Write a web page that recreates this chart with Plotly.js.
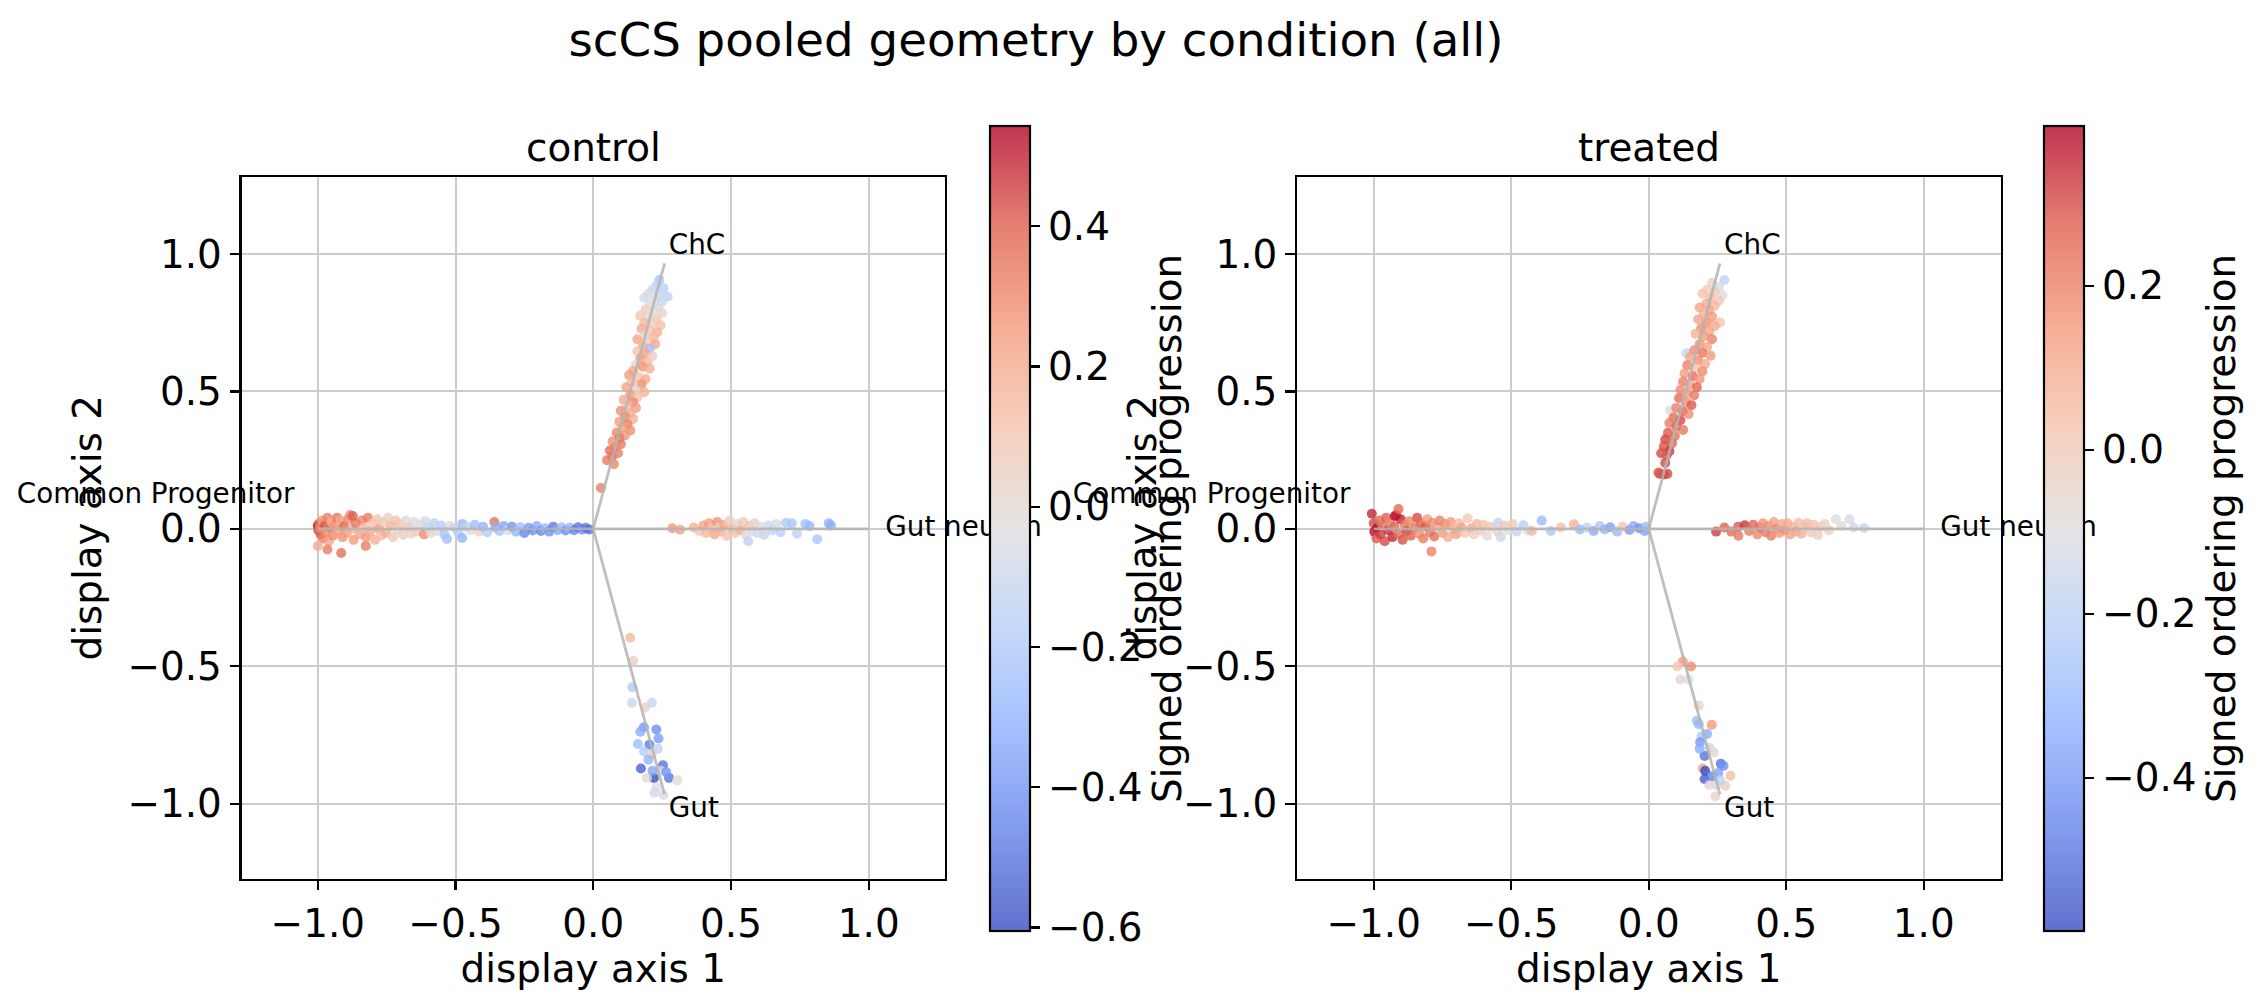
<!DOCTYPE html>
<html>
<head>
<meta charset="utf-8">
<script src="https://cdn.plot.ly/plotly-3.0.1.min.js"></script>
<style>
  html, body { margin: 0; padding: 0; background: #ffffff; }
  #chart { width: 2268px; height: 1007px; }
</style>
</head>
<body>
<div id="chart"></div>
<script>
// ---- skeleton of the pooled geometry ----
const vertex_names = ['Common Progenitor', 'Gut neuron', 'ChC', 'Gut'];
const vertex_x = [-1.0, 1.0, 0.2588, 0.2588];
const vertex_y = [0.0, 0.0, 0.9659, -0.9659];
const label_x = [-1.085, 1.06, 0.274, 0.274];
const label_y = [0.12, 0.0, 1.024, -1.024];
const label_side = ['middle left', 'middle right', 'middle right', 'middle right'];

const conditions = ['control', 'treated'];
const colour_min = [-0.605, -0.587];
const colour_max = [0.543, 0.395];
const colour_ticks = [[-0.6, -0.4, -0.2, 0.0, 0.2, 0.4], [-0.4, -0.2, 0.0, 0.2]];
const axis_ticks = [-1.0, -0.5, 0.0, 0.5, 1.0];

// ---- cells: [display axis 1, display axis 2, signed ordering progression] ----
const control_progenitor = [
  [-1.000, 0.012, 0.543], [-0.998, -0.005, 0.45], [-0.995, 0.020, 0.38], [-0.990, -0.020, 0.40],
  [-0.992, 0.002, 0.30], [-0.985, 0.030, 0.25], [-0.980, -0.035, 0.32], [-0.975, 0.010, 0.42],
  [-0.970, -0.010, 0.28], [-0.965, 0.040, 0.33], [-0.960, -0.045, 0.22], [-0.955, 0.005, 0.35],
  [-0.950, 0.025, 0.18], [-0.945, -0.025, 0.30], [-0.940, 0.015, 0.27], [-0.965, -0.075, 0.33],
  [-1.000, -0.062, 0.20], [-0.915, -0.088, 0.36], [-0.826, -0.062, 0.33], [-0.930, 0.040, 0.35],
  [-0.925, -0.005, 0.25], [-0.918, 0.030, 0.20], [-0.910, -0.030, 0.28], [-0.905, 0.010, 0.38],
  [-0.895, -0.015, 0.24], [-0.890, 0.035, 0.30], [-0.883, 0.050, 0.28], [-0.875, 0.000, 0.17],
  [-0.870, -0.040, 0.25], [-0.862, 0.020, 0.34], [-0.873, 0.047, 0.40], [-0.848, -0.020, 0.22],
  [-0.840, 0.030, 0.31], [-0.832, 0.005, 0.15], [-0.825, -0.030, 0.26], [-0.818, 0.040, 0.33],
  [-0.810, -0.010, 0.20], [-0.800, 0.020, 0.12], [-0.792, -0.040, 0.18], [-0.785, 0.035, 0.10],
  [-0.778, 0.000, 0.24], [-0.770, -0.025, 0.14], [-0.760, 0.025, 0.08], [-0.752, -0.015, 0.20],
  [-0.745, 0.040, 0.05], [-0.735, 0.010, 0.16], [-0.727, -0.030, 0.09], [-0.718, 0.030, 0.13],
  [-0.710, -0.005, 0.03], [-0.700, 0.018, 0.11], [-0.690, -0.022, 0.06], [-0.680, 0.030, 0.00],
  [-0.670, 0.005, 0.10], [-0.660, -0.018, 0.02], [-0.650, 0.025, -0.05], [-0.640, -0.010, 0.08],
  [-0.628, 0.015, -0.02], [-0.614, -0.020, 0.30], [-0.610, 0.028, -0.08], [-0.600, 0.005, -0.12],
  [-0.590, -0.015, 0.02], [-0.578, 0.020, -0.15], [-0.565, -0.008, -0.05], [-0.552, 0.012, -0.18],
  [-0.540, -0.020, -0.22], [-0.531, -0.037, -0.25], [-0.520, 0.010, 0.00], [-0.505, 0.005, -0.10],
  [-0.490, -0.012, -0.20], [-0.475, 0.018, -0.28], [-0.476, -0.033, -0.30], [-0.460, 0.008, -0.15],
  [-0.445, -0.005, -0.05], [-0.430, 0.015, -0.25], [-0.415, -0.010, 0.05], [-0.400, 0.008, -0.30],
  [-0.385, -0.012, -0.20], [-0.359, 0.025, 0.35], [-0.355, 0.005, -0.32], [-0.340, -0.008, -0.22],
  [-0.325, 0.010, -0.35], [-0.310, -0.005, -0.05], [-0.295, 0.008, -0.40], [-0.280, -0.010, -0.30],
  [-0.265, 0.006, -0.25], [-0.250, -0.015, -0.45], [-0.235, 0.004, -0.38], [-0.220, -0.006, -0.42],
  [-0.205, 0.010, -0.33], [-0.190, -0.008, -0.45], [-0.175, 0.002, -0.30], [-0.160, -0.010, -0.40],
  [-0.145, 0.008, -0.48], [-0.130, -0.004, -0.35], [-0.115, 0.006, -0.25], [-0.100, -0.006, -0.42],
  [-0.085, 0.004, -0.30], [-0.070, -0.005, -0.45], [-0.055, 0.006, -0.50], [-0.040, -0.003, -0.40],
  [-0.028, 0.004, -0.48], [-0.015, -0.002, -0.52]
];
const control_chc = [
  [0.240, 0.905, -0.22], [0.230, 0.885, -0.15], [0.215, 0.870, -0.10], [0.255, 0.875, -0.18],
  [0.200, 0.855, -0.05], [0.238, 0.850, -0.12], [0.270, 0.845, -0.15], [0.185, 0.840, -0.08],
  [0.222, 0.830, 0.00], [0.250, 0.825, -0.10], [0.205, 0.815, -0.03], [0.235, 0.805, -0.06],
  [0.190, 0.798, 0.05], [0.218, 0.790, -0.02], [0.250, 0.785, 0.02], [0.170, 0.775, 0.10],
  [0.200, 0.770, 0.00], [0.230, 0.762, 0.08], [0.185, 0.750, 0.15], [0.215, 0.745, 0.05],
  [0.245, 0.740, 0.12], [0.175, 0.728, 0.20], [0.205, 0.722, 0.10], [0.232, 0.715, 0.18],
  [0.190, 0.705, 0.02], [0.220, 0.698, 0.15], [0.160, 0.690, 0.22], [0.200, 0.680, 0.08],
  [0.225, 0.672, 0.20], [0.180, 0.665, 0.18], [0.205, 0.655, -0.25], [0.160, 0.645, 0.12],
  [0.190, 0.638, 0.22], [0.215, 0.628, 0.05], [0.170, 0.618, 0.25], [0.195, 0.605, 0.15],
  [0.155, 0.598, 0.02], [0.180, 0.590, 0.27], [0.205, 0.583, 0.18], [0.145, 0.575, 0.20],
  [0.130, 0.560, 0.25], [0.165, 0.552, 0.10], [0.190, 0.545, 0.20], [0.140, 0.535, 0.15],
  [0.175, 0.525, 0.28], [0.120, 0.515, 0.22], [0.155, 0.505, 0.05], [0.185, 0.497, 0.18],
  [0.135, 0.488, 0.26], [0.160, 0.478, 0.12], [0.110, 0.470, 0.20], [0.145, 0.460, 0.30],
  [0.125, 0.448, 0.15], [0.155, 0.440, 0.24], [0.100, 0.430, 0.28], [0.135, 0.420, 0.20],
  [0.115, 0.408, 0.30], [0.145, 0.400, 0.18], [0.095, 0.390, 0.25], [0.125, 0.380, 0.32],
  [0.105, 0.368, 0.22], [0.135, 0.358, 0.28], [0.085, 0.350, 0.30], [0.115, 0.340, 0.26],
  [0.095, 0.330, 0.33], [0.070, 0.318, 0.28], [0.100, 0.308, 0.34], [0.080, 0.298, 0.30],
  [0.060, 0.285, 0.36], [0.090, 0.275, 0.32], [0.068, 0.262, 0.35], [0.050, 0.250, 0.33],
  [0.075, 0.235, 0.30], [0.028, 0.149, 0.32]
];
const control_gut_neuron = [
  [0.287, 0.002, 0.26], [0.315, -0.003, 0.24], [0.365, 0.005, 0.18], [0.385, -0.008, 0.10],
  [0.400, 0.012, 0.22], [0.410, -0.015, 0.15], [0.420, 0.020, 0.25], [0.430, 0.002, 0.12],
  [0.440, -0.020, 0.20], [0.450, 0.025, 0.28], [0.458, 0.005, 0.08], [0.465, -0.010, 0.18],
  [0.475, 0.015, 0.22], [0.485, -0.025, 0.12], [0.495, 0.030, 0.05], [0.505, 0.000, 0.15],
  [0.515, -0.015, 0.10], [0.525, 0.018, 0.02], [0.535, -0.005, 0.18], [0.545, 0.025, 0.08],
  [0.555, -0.022, 0.00], [0.565, 0.010, 0.12], [0.575, -0.008, -0.05], [0.585, 0.020, 0.05],
  [0.563, -0.045, -0.15], [0.595, -0.015, -0.08], [0.605, 0.008, -0.02], [0.620, -0.022, -0.12],
  [0.635, 0.012, -0.10], [0.650, -0.005, -0.15], [0.665, 0.018, -0.05], [0.680, -0.012, -0.18],
  [0.700, 0.022, -0.20], [0.721, 0.020, -0.22], [0.740, -0.018, -0.15], [0.770, 0.018, -0.25],
  [0.785, 0.010, -0.28], [0.813, -0.038, -0.22], [0.855, 0.020, -0.30], [0.863, 0.012, -0.32]
];
const control_gut = [
  [0.134, -0.396, 0.15], [0.145, -0.480, 0.05], [0.142, -0.576, -0.20], [0.140, -0.633, -0.10],
  [0.188, -0.650, 0.05], [0.213, -0.633, -0.12], [0.184, -0.722, -0.40], [0.171, -0.738, -0.33],
  [0.229, -0.730, -0.42], [0.162, -0.783, -0.25], [0.204, -0.785, -0.48], [0.237, -0.763, -0.38],
  [0.185, -0.810, -0.20], [0.212, -0.820, 0.05], [0.253, -0.860, -0.50], [0.173, -0.872, -0.55],
  [0.220, -0.906, -0.605], [0.275, -0.906, -0.50], [0.245, -0.880, -0.05], [0.195, -0.906, 0.00],
  [0.305, -0.915, -0.02], [0.230, -0.940, -0.03], [0.255, -0.968, -0.05], [0.222, -0.960, -0.08],
  [0.200, -0.840, -0.30], [0.235, -0.800, -0.15], [0.265, -0.885, -0.40], [0.215, -0.880, -0.35]
];

const treated_progenitor = [
  [-1.000, 0.020, 0.30], [-0.998, -0.010, 0.38], [-1.007, 0.055, 0.35], [-0.990, -0.035, 0.28],
  [-0.985, 0.005, 0.395], [-0.980, 0.030, 0.25], [-0.975, -0.020, 0.32], [-0.968, 0.012, 0.22],
  [-0.960, -0.045, 0.30], [-0.955, 0.040, 0.27], [-0.948, -0.005, 0.33], [-0.940, 0.022, 0.20],
  [-0.932, -0.030, 0.35], [-0.925, 0.008, 0.26], [-0.918, 0.050, 0.30], [-0.910, -0.018, 0.24],
  [-0.902, 0.035, 0.36], [-0.923, 0.047, 0.38], [-0.895, -0.040, 0.29], [-0.888, 0.015, 0.22],
  [-0.880, -0.008, 0.31], [-0.872, 0.028, 0.19], [-0.865, -0.025, 0.27], [-0.910, 0.072, 0.25],
  [-0.850, 0.005, 0.23], [-0.842, 0.040, 0.30], [-0.835, -0.018, 0.17], [-0.828, 0.020, 0.25],
  [-0.820, -0.035, 0.21], [-0.790, -0.082, 0.20], [-0.812, 0.010, 0.28], [-0.805, 0.035, 0.15],
  [-0.796, -0.012, 0.22], [-0.788, 0.022, 0.18], [-0.780, -0.028, 0.24], [-0.770, 0.008, 0.12],
  [-0.760, 0.030, 0.20], [-0.750, -0.015, 0.14], [-0.740, 0.018, 0.17], [-0.730, -0.030, 0.10],
  [-0.720, 0.025, 0.15], [-0.710, 0.000, 0.08], [-0.700, -0.020, 0.13], [-0.690, 0.020, 0.05],
  [-0.680, 0.005, 0.12], [-0.668, -0.015, 0.02], [-0.659, 0.038, 0.00], [-0.645, 0.002, 0.10],
  [-0.635, -0.020, -0.02], [-0.625, 0.018, 0.06], [-0.612, -0.005, 0.00], [-0.600, 0.015, 0.04],
  [-0.588, -0.025, -0.08], [-0.575, 0.008, 0.02], [-0.548, 0.022, -0.20], [-0.550, -0.010, -0.05],
  [-0.538, -0.030, -0.15], [-0.525, 0.012, 0.03], [-0.512, -0.005, -0.10], [-0.495, 0.018, 0.00],
  [-0.480, -0.010, -0.18], [-0.456, 0.013, -0.22], [-0.440, -0.005, -0.12], [-0.425, -0.008, 0.06],
  [-0.389, 0.030, -0.30], [-0.356, -0.008, -0.25], [-0.320, 0.005, 0.04], [-0.272, 0.017, 0.08],
  [-0.250, -0.002, -0.30], [-0.225, 0.004, -0.20], [-0.200, -0.008, -0.35], [-0.178, 0.010, -0.25],
  [-0.160, -0.002, -0.32], [-0.140, 0.006, -0.38], [-0.115, -0.010, -0.30], [-0.095, 0.008, 0.02],
  [-0.070, -0.004, -0.40], [-0.055, 0.010, -0.35], [-0.035, 0.002, -0.42], [-0.015, -0.008, -0.38],
  [-0.010, 0.008, -0.30]
];
const treated_chc = [
  [0.275, 0.905, -0.20], [0.230, 0.895, -0.05], [0.255, 0.880, -0.12], [0.212, 0.870, -0.02],
  [0.240, 0.862, 0.00], [0.268, 0.850, -0.08], [0.195, 0.855, 0.02], [0.225, 0.840, 0.05],
  [0.255, 0.830, 0.00], [0.210, 0.820, 0.10], [0.240, 0.812, 0.06], [0.185, 0.805, 0.12],
  [0.259, 0.751, 0.02], [0.220, 0.795, 0.13], [0.200, 0.780, 0.08], [0.230, 0.772, 0.15],
  [0.180, 0.762, 0.12], [0.210, 0.750, 0.17], [0.240, 0.738, 0.10], [0.190, 0.728, 0.18],
  [0.220, 0.718, 0.12], [0.170, 0.710, 0.08], [0.200, 0.700, 0.15], [0.230, 0.690, 0.20],
  [0.137, 0.639, -0.18], [0.185, 0.672, 0.16], [0.212, 0.662, 0.12], [0.165, 0.650, 0.18],
  [0.195, 0.640, 0.22], [0.225, 0.630, 0.15], [0.150, 0.625, 0.12], [0.180, 0.612, 0.17],
  [0.205, 0.600, 0.10], [0.140, 0.595, 0.20], [0.170, 0.585, 0.02], [0.195, 0.573, 0.18],
  [0.130, 0.565, 0.15], [0.160, 0.555, 0.24], [0.185, 0.545, 0.16], [0.125, 0.535, 0.20],
  [0.150, 0.525, 0.13], [0.175, 0.515, 0.26], [0.115, 0.505, 0.18], [0.140, 0.495, 0.15],
  [0.078, 0.431, -0.10], [0.165, 0.485, 0.22], [0.110, 0.475, 0.24], [0.135, 0.462, 0.17],
  [0.155, 0.450, 0.28], [0.100, 0.440, 0.20], [0.125, 0.428, 0.26], [0.145, 0.418, 0.18],
  [0.090, 0.405, 0.24], [0.115, 0.395, 0.30], [0.075, 0.385, 0.21], [0.100, 0.372, 0.26],
  [0.125, 0.360, 0.22], [0.070, 0.350, 0.28], [0.095, 0.338, 0.24], [0.060, 0.325, 0.31],
  [0.085, 0.312, 0.26], [0.055, 0.300, 0.29], [0.075, 0.282, 0.33], [0.045, 0.275, 0.30],
  [0.065, 0.268, 0.28], [0.040, 0.200, 0.31], [0.055, 0.198, 0.33], [0.068, 0.200, 0.30],
  [0.035, 0.205, 0.28], [0.060, 0.240, 0.30]
];
const treated_gut_neuron = [
  [0.245, -0.010, 0.32], [0.275, 0.005, 0.27], [0.300, -0.010, 0.25], [0.325, 0.008, 0.28],
  [0.326, -0.025, 0.22], [0.349, 0.013, 0.33], [0.365, -0.008, 0.21], [0.380, 0.015, 0.26],
  [0.395, -0.020, 0.19], [0.405, 0.005, 0.24], [0.415, 0.020, 0.16], [0.425, -0.012, 0.22],
  [0.435, 0.010, 0.18], [0.445, -0.025, 0.21], [0.455, 0.025, 0.13], [0.465, 0.000, 0.19],
  [0.475, -0.015, 0.15], [0.485, 0.018, 0.11], [0.495, -0.005, 0.17], [0.505, 0.020, 0.09],
  [0.515, -0.020, 0.13], [0.525, 0.008, 0.07], [0.535, -0.010, 0.11], [0.545, 0.022, 0.05],
  [0.555, -0.018, 0.09], [0.565, 0.005, 0.02], [0.575, 0.020, 0.05], [0.590, -0.012, 0.00],
  [0.600, 0.015, 0.04], [0.615, -0.022, -0.02], [0.625, 0.008, 0.02], [0.640, 0.018, -0.05],
  [0.655, -0.005, -0.02], [0.680, 0.035, -0.10], [0.700, 0.010, -0.08], [0.730, 0.035, -0.12],
  [0.745, 0.005, -0.15], [0.783, 0.003, -0.18]
];
const treated_gut = [
  [0.124, -0.483, 0.15], [0.104, -0.501, 0.02], [0.154, -0.501, 0.18], [0.115, -0.548, -0.05],
  [0.145, -0.548, -0.10], [0.182, -0.643, -0.02], [0.175, -0.698, -0.30], [0.182, -0.711, -0.32],
  [0.229, -0.713, 0.15], [0.192, -0.755, -0.25], [0.212, -0.746, -0.35], [0.187, -0.776, -0.40],
  [0.220, -0.796, -0.15], [0.237, -0.813, -0.05], [0.203, -0.826, -0.50], [0.262, -0.855, -0.50],
  [0.196, -0.872, 0.12], [0.253, -0.888, -0.38], [0.203, -0.910, -0.55], [0.272, -0.862, -0.42],
  [0.297, -0.898, 0.05], [0.220, -0.932, -0.05], [0.245, -0.932, -0.08], [0.278, -0.935, -0.02],
  [0.242, -0.973, -0.05], [0.205, -0.880, -0.587], [0.230, -0.900, -0.45], [0.260, -0.915, -0.20],
  [0.185, -0.800, -0.35]
];

const cells_by_condition = [
  [control_progenitor, control_chc, control_gut_neuron, control_gut],
  [treated_progenitor, treated_chc, treated_gut_neuron, treated_gut]
];

// ---- styling ----
const FONT = 'DejaVu Sans, Liberation Sans, sans-serif';
const W = 2268, H = 1007;
const ALPHA = 0.8;
const coolwarmStops = [
  [0.0, [59, 76, 192]], [0.125, [98, 130, 234]], [0.25, [141, 176, 254]],
  [0.375, [184, 208, 249]], [0.5, [221, 221, 221]], [0.625, [245, 196, 173]],
  [0.75, [244, 154, 123]], [0.875, [222, 96, 77]], [1.0, [180, 4, 38]]
];
// translucent scale for the cells, and the same scale flattened onto white for the bars
const coolwarmCells = coolwarmStops.map(([t, c]) => [t, `rgba(${c[0]},${c[1]},${c[2]},${ALPHA})`]);
const coolwarmBar = coolwarmStops.map(([t, c]) => {
  const m = c.map(v => Math.round(v * ALPHA + 255 * (1 - ALPHA)));
  return [t, `rgb(${m[0]},${m[1]},${m[2]})`];
});

const px = v => v / W;          // horizontal pixel -> paper
const py = v => 1 - v / H;      // vertical pixel (from top) -> paper

const panelX = [[241.5, 945.0], [1297.0, 2000.5]];
const panelY = [177.0, 878.5];
const xRanges = [[-1.277, 1.277], [-1.279, 1.279]];
const yRange = [-1.272, 1.280];
const barLeft = [990, 2044];

const traces = [];
const layout = {
  width: W, height: H,
  margin: {l: 0, r: 0, t: 0, b: 0, pad: 0, autoexpand: false},
  paper_bgcolor: '#ffffff', plot_bgcolor: '#ffffff',
  showlegend: false,
  font: {family: FONT, size: 38.9, color: '#000000'},
  title: {
    text: 'scCS pooled geometry by condition (all)',
    x: px(1036), xanchor: 'center', xref: 'container',
    y: 1 - 39.7 / H, yanchor: 'middle', yref: 'container',
    font: {family: FONT, size: 46.7, color: '#000000'}
  },
  annotations: []
};

conditions.forEach((name, i) => {
  const xa = i === 0 ? 'x' : 'x2';
  const ya = i === 0 ? 'y' : 'y2';
  const cells = cells_by_condition[i].flat();
  const cx = cells.map(c => c[0]), cy = cells.map(c => c[1]), cv = cells.map(c => c[2]);

  // cells
  traces.push({
    type: 'scatter', mode: 'markers', xaxis: xa, yaxis: ya, x: cx, y: cy,
    hoverinfo: 'skip',
    marker: {
      size: 10, color: cv, colorscale: coolwarmCells,
      cmin: colour_min[i], cmax: colour_max[i], line: {width: 0}, showscale: false
    }
  });

  // colour bar for the same values (opaque bar, markers hidden)
  traces.push({
    type: 'scatter', mode: 'markers', xaxis: xa, yaxis: ya, x: cx, y: cy,
    hoverinfo: 'skip',
    marker: {
      size: 10, color: cv, colorscale: coolwarmBar, opacity: 0,
      cmin: colour_min[i], cmax: colour_max[i], line: {width: 0},
      showscale: true,
      colorbar: {
        x: px(barLeft[i]), xanchor: 'left', xref: 'paper', xpad: 0,
        y: py(528.5), yanchor: 'middle', yref: 'paper', ypad: 0,
        len: 805, lenmode: 'pixels', thickness: 40, thicknessmode: 'pixels',
        outlinewidth: 2.2, outlinecolor: '#000000',
        ticks: 'outside', ticklen: 9.7, tickwidth: 2.2, tickcolor: '#000000',
        tickvals: colour_ticks[i], tickformat: '.1f',
        tickfont: {family: FONT, size: 38.9, color: '#000000'},
        title: {text: 'Signed ordering progression', side: 'right',
                font: {family: FONT, size: 38.9, color: '#000000'}}
      }
    }
  });

  // skeleton edges from the origin to each terminal vertex
  const ex = [], ey = [];
  vertex_x.forEach((vx, k) => { ex.push(0, vx, null); ey.push(0, vertex_y[k], null); });
  traces.push({
    type: 'scatter', mode: 'lines', xaxis: xa, yaxis: ya, x: ex, y: ey,
    hoverinfo: 'skip', line: {color: 'rgba(180,180,180,0.85)', width: 2.8}
  });

  traces.push({
    type: 'scatter', mode: 'text', xaxis: xa, yaxis: ya,
    x: label_x, y: label_y, text: vertex_names, textposition: label_side,
    cliponaxis: false, hoverinfo: 'skip',
    textfont: {family: FONT, size: 27.8, color: '#000000'}
  });

  layout.annotations.push({
    text: name, xref: 'paper', yref: 'paper',
    x: px((panelX[i][0] + panelX[i][1]) / 2), xanchor: 'center',
    y: py(162), yanchor: 'bottom', yshift: -10, showarrow: false,
    font: {family: FONT, size: 38.9, color: '#000000'}
  });

  const axisCommon = {
    showline: true, mirror: true, linecolor: '#000000', linewidth: 2.2,
    ticks: 'outside', ticklen: 9.7, tickwidth: 2.2, tickcolor: '#000000',
    showgrid: true, gridcolor: '#cccccc', gridwidth: 2, zeroline: false,
    tickvals: axis_ticks, tickformat: '.1f', automargin: false, tickangle: 0,
    tickfont: {family: FONT, size: 38.9, color: '#000000'}
  };
  layout[i === 0 ? 'xaxis' : 'xaxis2'] = Object.assign({}, axisCommon, {
    domain: [px(panelX[i][0]), px(panelX[i][1])], range: xRanges[i],
    anchor: ya,
    title: {text: 'display axis 1', standoff: 7, font: {family: FONT, size: 38.9, color: '#000000'}}
  });
  layout[i === 0 ? 'yaxis' : 'yaxis2'] = Object.assign({}, axisCommon, {
    domain: [py(panelY[1]), py(panelY[0])], range: yRange,
    anchor: xa,
    title: {text: 'display axis 2', standoff: 14, font: {family: FONT, size: 38.9, color: '#000000'}}
  });
});

Plotly.newPlot('chart', traces, layout, {displayModeBar: false, staticPlot: true});
</script>
</body>
</html>
